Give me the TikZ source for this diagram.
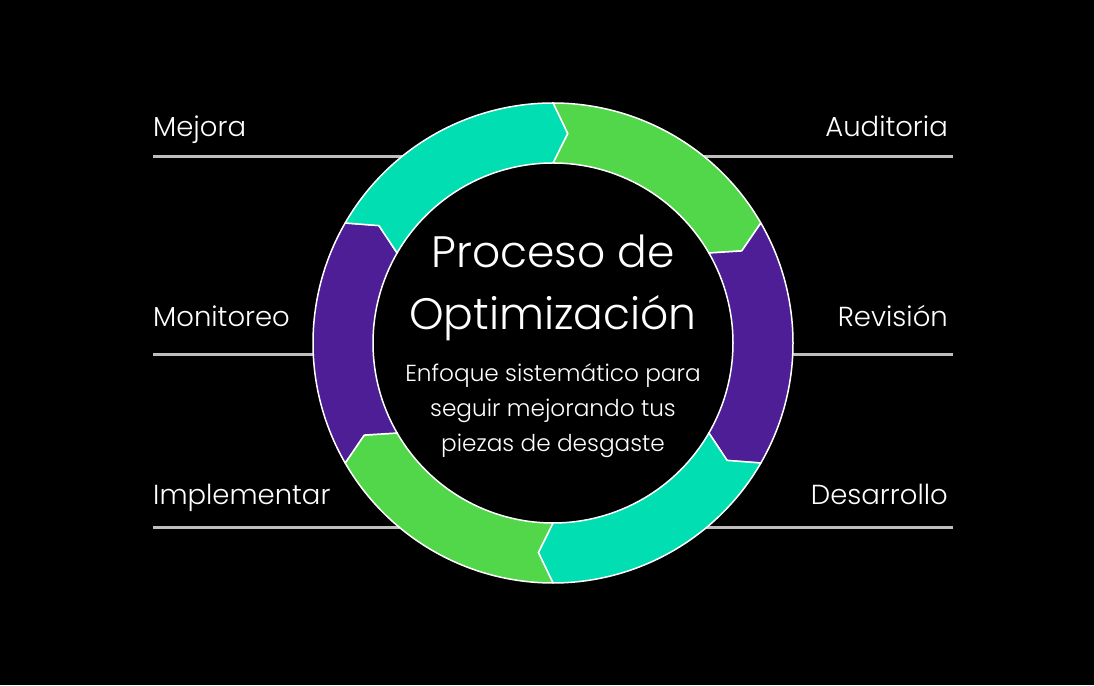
\documentclass[tikz,border=0pt]{standalone}
\usepackage{fontspec}
\setmainfont{Poppins Light}
\usetikzlibrary{calc}
\definecolor{ringteal}{RGB}{0,222,178}
\definecolor{ringgreen}{RGB}{82,214,74}
\definecolor{ringpurple}{RGB}{78,30,150}
\definecolor{guidegray}{RGB}{190,190,190}
% one arrow piece of the ring: #1 fill, #2 start angle (runs 60 deg clockwise)
\newcommand{\ringpart}[2]{%
  \draw[part,fill=#1] ([shift={(#2:240)}]c) arc[start angle=#2,delta angle=-60,radius=240]
    -- ([shift={({#2-64}:210)}]c) -- ([shift={({#2-60}:180)}]c)
    arc[start angle={#2-60},delta angle=60,radius=180]
    -- ([shift={({#2-4}:210)}]c) -- cycle;}
\tikzset{
  lbl/.style={text=white,font=\fontsize{27.5}{30}\selectfont,inner sep=0pt},
  guide/.style={draw=guidegray,line width=3pt},
  part/.style={draw=white,line width=1.5pt,line join=round},
  ttl/.style={text=white,font=\fontsize{44}{50}\selectfont,inner sep=0pt,anchor=base},
  sub/.style={text=white,font=\fontsize{23.2}{30}\selectfont,inner sep=0pt,anchor=base}
}
\begin{document}
\begin{tikzpicture}[x=1pt,y=1pt]
\fill[black] (0,0) rectangle (1094,685);
\useasboundingbox (0,0) rectangle (1094,685);
\coordinate (c) at (553,342);

% labels and their rules
\node[lbl,anchor=base west] (mejora) at (153,548) {Mejora};
\node[lbl,anchor=base west] (monitoreo) at (153,358) {Monitoreo};
\node[lbl,anchor=base west] (implementar) at (153,180) {Implementar};
\node[lbl,anchor=base east] (auditoria) at (948,548) {Auditoria};
\node[lbl,anchor=base east] (revision) at (948,358) {Revisión};
\node[lbl,anchor=base east] (desarrollo) at (948,180) {Desarrollo};
\coordinate (mejora-l) at (153,528);
\coordinate (mejora-r) at (420,528);
\coordinate (monitoreo-l) at (153,330);
\coordinate (monitoreo-r) at (330,330);
\coordinate (implementar-l) at (153,157);
\coordinate (implementar-r) at (420,157);
\coordinate (auditoria-l) at (690,528);
\coordinate (auditoria-r) at (953,528);
\coordinate (revision-l) at (780,330);
\coordinate (revision-r) at (953,330);
\coordinate (desarrollo-l) at (690,157);
\coordinate (desarrollo-r) at (953,157);
\draw[guide] (mejora-l) -- (mejora-r);
\draw[guide] (monitoreo-l) -- (monitoreo-r);
\draw[guide] (implementar-l) -- (implementar-r);
\draw[guide] (auditoria-l) -- (auditoria-r);
\draw[guide] (revision-l) -- (revision-r);
\draw[guide] (desarrollo-l) -- (desarrollo-r);

% ring
\ringpart{ringgreen}{90}
\ringpart{ringpurple}{30}
\ringpart{ringteal}{-30}
\ringpart{ringgreen}{-90}
\ringpart{ringpurple}{-150}
\ringpart{ringteal}{150}

% centre text
\node[ttl] (titulo1) at (553,417) {Proceso de};
\node[ttl] (titulo2) at (553,355) {Optimización};
\node[sub] (sub1) at (553,303) {Enfoque sistemático para};
\node[sub] (sub2) at (553,268) {seguir mejorando tus};
\node[sub] (sub3) at (553,233) {piezas de desgaste};
\end{tikzpicture}
\end{document}
